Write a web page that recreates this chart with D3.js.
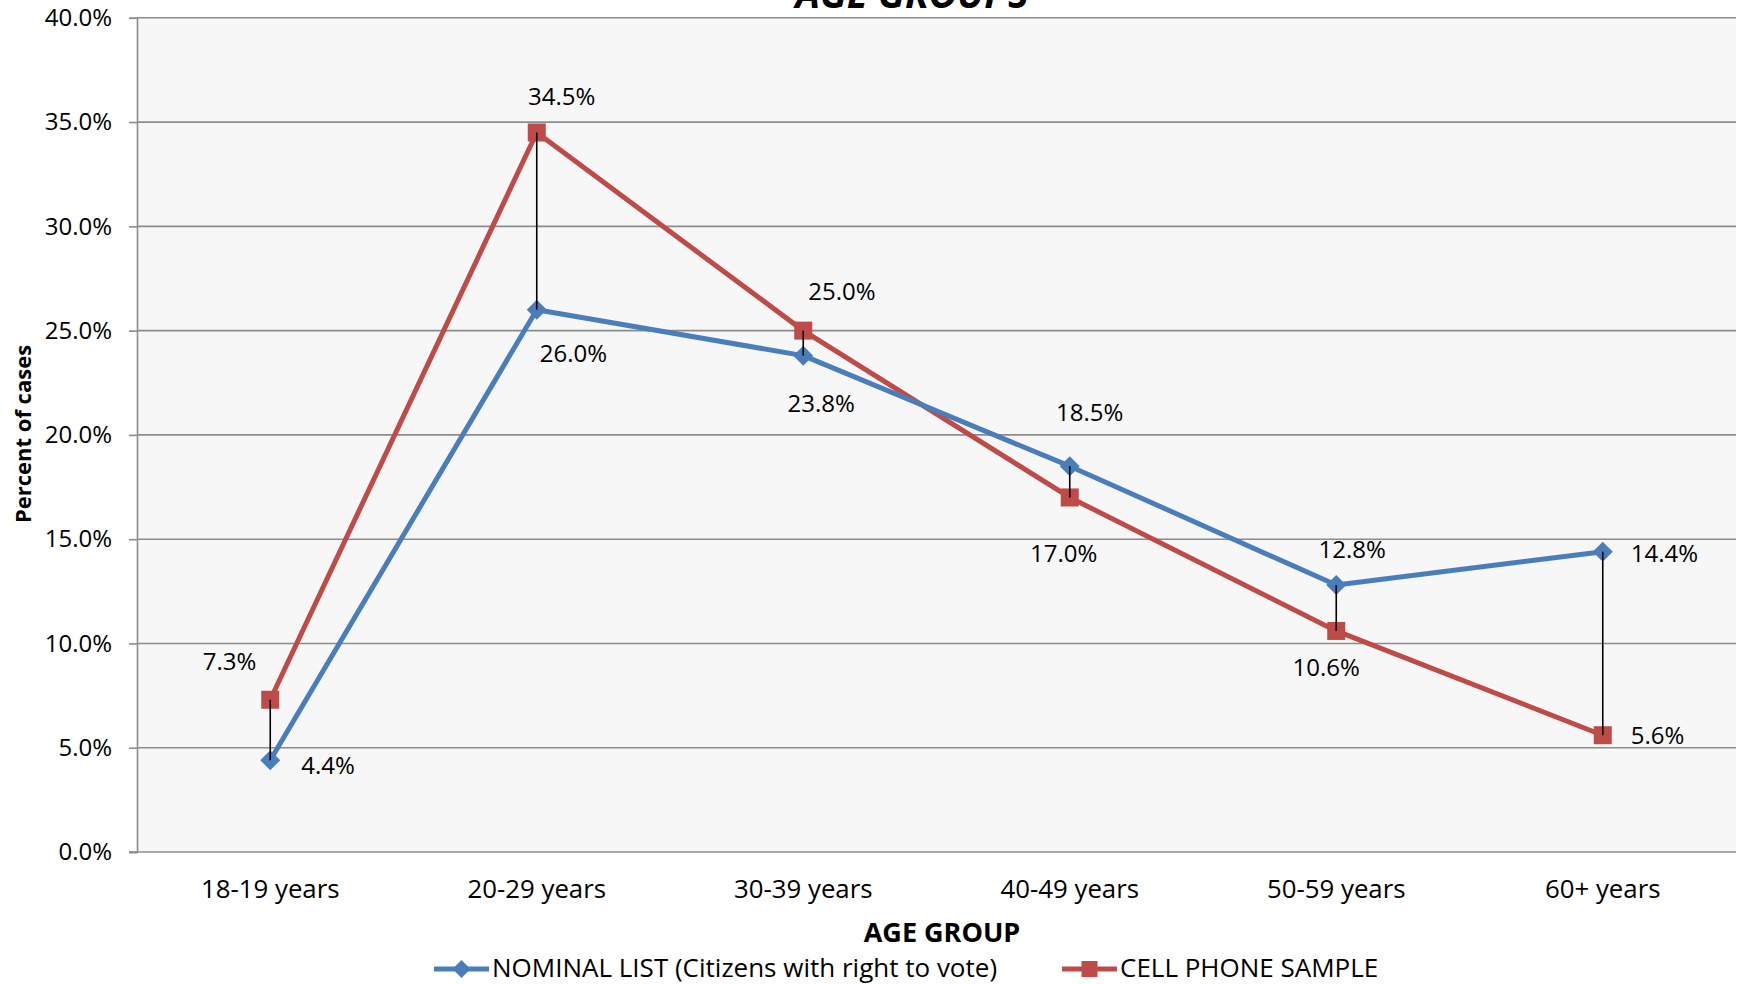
<!DOCTYPE html>
<html>
<head>
<meta charset="utf-8">
<script src="https://cdn.jsdelivr.net/npm/d3@7"></script>
<style>
  html, body { margin: 0; padding: 0; background: #ffffff; }
  svg { display: block; }
  text { font-family: "Open Sans", "Noto Sans", sans-serif; fill: #000; }
</style>
</head>
<body>
<svg id="chart" width="1744" height="984"></svg>
<script>
// ---- Data ----
const categories = ["18-19 years", "20-29 years", "30-39 years", "40-49 years", "50-59 years", "60+ years"];
const nominalList = [4.4, 26.0, 23.8, 18.5, 12.8, 14.4];
const cellPhone = [7.3, 34.5, 25.0, 17.0, 10.6, 5.6];
const yTicks = [0, 5, 10, 15, 20, 25, 30, 35, 40];
const seriesNames = ["NOMINAL LIST (Citizens with right to vote)", "CELL PHONE SAMPLE"];
const chartTitle = "AGE GROUPS";
const xTitle = "AGE GROUP";
const yTitle = "Percent of cases";

// label placement (style, not data)
const nominalLabelPos = [
  {dx: 31, dy: 14, anchor: "start"},
  {dx: 3, dy: 52, anchor: "start"},
  {dx: 18, dy: 56, anchor: "middle"},
  {dx: 20, dy: -45, anchor: "middle"},
  {dx: 16, dy: -27, anchor: "middle"},
  {dx: 28, dy: 10, anchor: "start"}
];
const cellLabelPos = [
  {dx: -14, dy: -30, anchor: "end"},
  {dx: 25, dy: -28, anchor: "middle"},
  {dx: 5, dy: -31, anchor: "start"},
  {dx: -6, dy: 65, anchor: "middle"},
  {dx: -10, dy: 45, anchor: "middle"},
  {dx: 28, dy: 9, anchor: "start"}
];

const blue = "#4A7EBB";
const red = "#BE4B48";
const gridColor = "#8C8C8C";

const svg = d3.select("#chart");
const plotLeft = 137, plotRight = 1736, plotTop = 17.8, plotBottom = 852;

const x = d3.scaleBand().domain(categories).range([plotLeft, plotRight]).padding(0);
const y = d3.scaleLinear().domain([0, 40]).range([plotBottom, plotTop]);
const cx = c => x(c) + x.bandwidth() / 2;

// plot background
svg.append("rect")
  .attr("x", plotLeft).attr("y", plotTop)
  .attr("width", plotRight - plotLeft).attr("height", plotBottom - plotTop)
  .attr("fill", "#F7F7F7");

// gridlines
svg.append("g").selectAll("line").data(yTicks.filter(d => d > 0)).join("line")
  .attr("x1", plotLeft).attr("x2", plotRight)
  .attr("y1", d => y(d)).attr("y2", d => y(d))
  .attr("stroke", gridColor).attr("stroke-width", 1.6);

// y axis
const yAxis = d3.axisLeft(y).tickValues(yTicks).tickFormat(d => d.toFixed(1) + "%").tickSize(8).tickPadding(17);
const gy = svg.append("g").attr("transform", `translate(${plotLeft},0)`).call(yAxis);
gy.select(".domain").attr("stroke", gridColor).attr("stroke-width", 1.6);
gy.selectAll(".tick line").attr("stroke", gridColor).attr("stroke-width", 1.6);
gy.selectAll(".tick text").attr("font-size", 24).attr("font-family", "Open Sans").attr("fill", "#000");

// x axis
const xAxis = d3.axisBottom(x).tickSize(0).tickPadding(28);
const gx = svg.append("g").attr("transform", `translate(0,${plotBottom})`).call(xAxis);
gx.select(".domain").attr("stroke", gridColor).attr("stroke-width", 1.6).attr("d", `M${plotLeft - 8},0H${plotRight}`);
gx.selectAll(".tick text").attr("font-size", 25.8).attr("font-family", "Open Sans").attr("fill", "#000");

const line = d3.line().x(d => cx(d.c)).y(d => y(d.v));
const nomData = categories.map((c, i) => ({c, v: nominalList[i]}));
const cellData = categories.map((c, i) => ({c, v: cellPhone[i]}));

svg.append("path").datum(cellData).attr("d", line)
  .attr("fill", "none").attr("stroke", red).attr("stroke-width", 5).attr("stroke-linejoin", "round");
svg.append("path").datum(nomData).attr("d", line)
  .attr("fill", "none").attr("stroke", blue).attr("stroke-width", 5).attr("stroke-linejoin", "round");

// markers
const diamond = s => `M0,${-s}L${s},0L0,${s}L${-s},0Z`;
svg.append("g").selectAll("path").data(nomData).join("path")
  .attr("transform", d => `translate(${cx(d.c)},${y(d.v)})`)
  .attr("d", diamond(10)).attr("fill", blue);
svg.append("g").selectAll("rect").data(cellData).join("rect")
  .attr("x", d => cx(d.c) - 9).attr("y", d => y(d.v) - 9)
  .attr("width", 18).attr("height", 18).attr("fill", red);

// high-low lines (drawn over markers, as in reference)
svg.append("g").selectAll("line").data(categories).join("line")
  .attr("x1", d => cx(d)).attr("x2", d => cx(d))
  .attr("y1", (d, i) => y(Math.max(nominalList[i], cellPhone[i])))
  .attr("y2", (d, i) => y(Math.min(nominalList[i], cellPhone[i])))
  .attr("stroke", "#000").attr("stroke-width", 1.6);

// data labels
const fmt = v => v.toFixed(1) + "%";
svg.append("g").selectAll("text").data(nomData).join("text")
  .attr("x", (d, i) => cx(d.c) + nominalLabelPos[i].dx)
  .attr("y", (d, i) => y(d.v) + nominalLabelPos[i].dy)
  .attr("text-anchor", (d, i) => nominalLabelPos[i].anchor)
  .attr("font-size", 24).text(d => fmt(d.v));
svg.append("g").selectAll("text").data(cellData).join("text")
  .attr("x", (d, i) => cx(d.c) + cellLabelPos[i].dx)
  .attr("y", (d, i) => y(d.v) + cellLabelPos[i].dy)
  .attr("text-anchor", (d, i) => cellLabelPos[i].anchor)
  .attr("font-size", 24).text(d => fmt(d.v));

// title (cut at top)
svg.append("text").attr("x", 912).attr("y", 8).attr("text-anchor", "middle")
  .attr("font-size", 39).attr("font-weight", "bold").attr("font-style", "italic")
  .text(chartTitle);

// axis titles
svg.append("text").attr("x", 942).attr("y", 942).attr("text-anchor", "middle")
  .attr("font-size", 27).attr("font-weight", "bold").text(xTitle);
svg.append("text").attr("transform", "translate(31,434) rotate(-90)").attr("text-anchor", "middle")
  .attr("font-size", 22).attr("font-weight", "bold").text(yTitle);

// legend
const legend = svg.append("g");
const leg = [
  {name: seriesNames[0], color: blue, type: "diamond", x0: 434},
  {name: seriesNames[1], color: red, type: "square", x0: 1062}
];
const ly = 969;
leg.forEach(l => {
  legend.append("line").attr("x1", l.x0).attr("x2", l.x0 + 55).attr("y1", ly).attr("y2", ly)
    .attr("stroke", l.color).attr("stroke-width", 5);
  if (l.type === "diamond") {
    legend.append("path").attr("transform", `translate(${l.x0 + 27.5},${ly})`).attr("d", diamond(9)).attr("fill", l.color);
  } else {
    legend.append("rect").attr("x", l.x0 + 27.5 - 8).attr("y", ly - 8).attr("width", 16).attr("height", 16).attr("fill", l.color);
  }
  legend.append("text").attr("x", l.x0 + 58).attr("y", ly + 8).attr("font-size", 26).text(l.name);
});
</script>
</body>
</html>
